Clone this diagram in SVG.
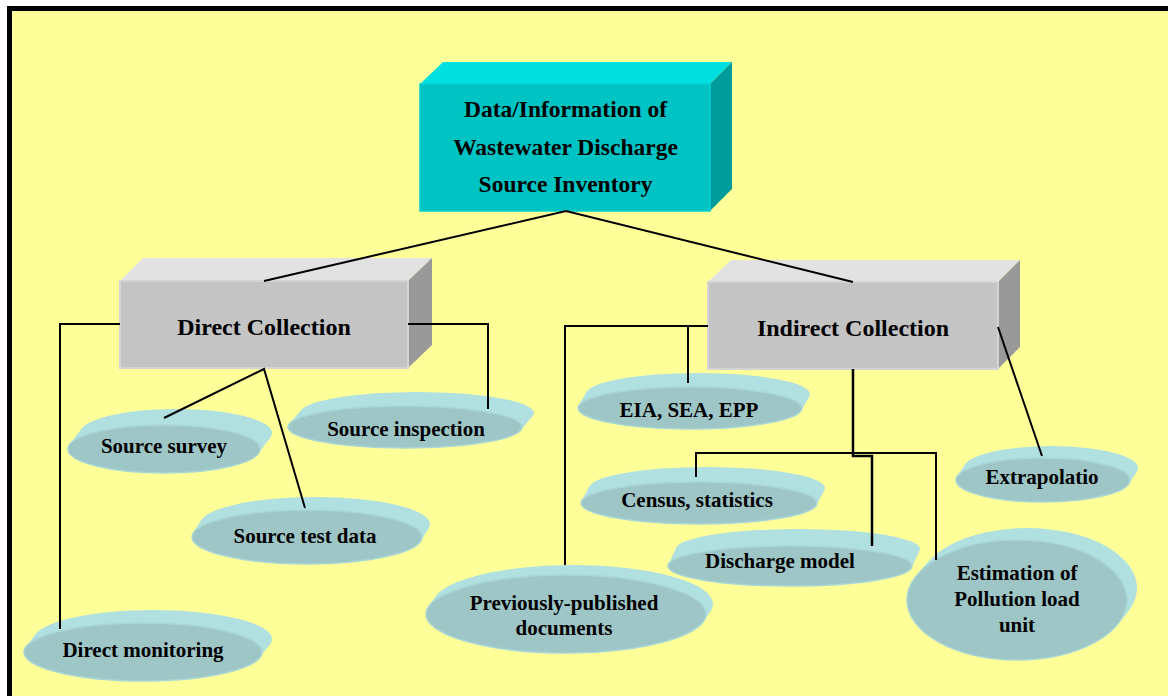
<svg xmlns="http://www.w3.org/2000/svg" width="1168" height="696" viewBox="0 0 1168 696">
<defs>
<style>
.t{font-family:"Liberation Serif","Times New Roman",serif;font-weight:bold;fill:#000;text-anchor:middle}
.big{font-size:23.5px}
.box{font-size:24px}
.dt{font-size:21px}
.cn{fill:none;stroke:#000;stroke-width:2}
.gtop{fill:#E2E2E2}
.gfront{fill:#C4C4C4;stroke:#D4D4D4;stroke-width:2}
.gside{fill:#999999}
.dback{fill:#B0E0E0}
.dfront{fill:#9EC6C6;stroke:#A9D6D6;stroke-width:1.5}
</style>
</defs>
<rect x="0" y="0" width="1168" height="696" fill="#FFFFFF"/>
<rect x="7" y="6" width="1161" height="690" fill="#000000"/>
<rect x="12" y="11" width="1156" height="685" fill="#FFFF99"/>

<g id="root">
<polygon points="420,84 443,62 732,62 710,84" fill="#00E0E0"/>
<polygon points="710,84 732,62 732,189 710,211" fill="#009C9C"/>
<rect x="420" y="84" width="290" height="127" fill="#00C4C4" stroke="#00D0D0" stroke-width="1.5"/>
<text class="t big" x="565.5" y="117">Data/Information of</text>
<text class="t big" x="565.5" y="155">Wastewater Discharge</text>
<text class="t big" x="565.5" y="192">Source Inventory</text>
</g>

<g id="direct">
<polygon class="gtop" points="120,281 143,258 432,258 408,281"/>
<polygon class="gside" points="408,281 432,258 432,345 408,368"/>
<rect class="gfront" x="120" y="281" width="288" height="87"/>
<text class="t box" x="264" y="335">Direct Collection</text>
</g>

<g id="indirect">
<polygon class="gtop" points="708,282 731,260 1020,260 998,282"/>
<polygon class="gside" points="998,282 1020,260 1020,347 998,369"/>
<rect class="gfront" x="708" y="282" width="290" height="87"/>
<text class="t box" x="853" y="336">Indirect Collection</text>
</g>

<g id="source-survey">
<ellipse class="dback" cx="176" cy="433" rx="96" ry="24"/>
<polygon class="dback" points="258.4,453.4 270.4,437.4 81.6,428.6 69.6,444.6"/>
<ellipse class="dfront" cx="164" cy="449" rx="96" ry="24"/>
<text class="t dt" x="164" y="453">Source survey</text>
</g>

<g id="source-inspection">
<ellipse class="dback" cx="417" cy="413" rx="117" ry="21"/>
<polygon class="dback" points="520.6,430.2 532.6,416.2 301.4,409.8 289.4,423.8"/>
<ellipse class="dfront" cx="405" cy="427" rx="117" ry="21"/>
<text class="t dt" x="406" y="436">Source inspection</text>
</g>

<g id="source-test-data">
<ellipse class="dback" cx="315" cy="524" rx="115" ry="27"/>
<polygon class="dback" points="420.8,540.9 428.8,527.9 201.2,520.1 193.2,533.1"/>
<ellipse class="dfront" cx="307" cy="537" rx="115" ry="27"/>
<text class="t dt" x="305" y="543">Source test data</text>
</g>

<g id="direct-monitoring">
<ellipse class="dback" cx="153" cy="639" rx="119" ry="29"/>
<polygon class="dback" points="260,657.3 270,644.3 36,633.7 26,646.7"/>
<ellipse class="dfront" cx="143" cy="652" rx="119" ry="29"/>
<text class="t dt" x="143" y="657">Direct monitoring</text>
</g>

<g id="eia">
<ellipse class="dback" cx="698" cy="394" rx="112" ry="21"/>
<polygon class="dback" points="801.4,410.2 809.4,396.2 586.6,391.8 578.6,405.8"/>
<ellipse class="dfront" cx="690" cy="408" rx="112" ry="21"/>
<text class="t dt" x="689" y="417">EIA, SEA, EPP</text>
</g>

<g id="census">
<ellipse class="dback" cx="707" cy="488" rx="118" ry="21"/>
<polygon class="dback" points="816.5,505 824.5,490 589.5,486 581.5,501"/>
<ellipse class="dfront" cx="699" cy="503" rx="118" ry="21"/>
<text class="t dt" x="697" y="507">Census, statistics</text>
</g>

<g id="discharge-model">
<ellipse class="dback" cx="798" cy="549" rx="122" ry="20"/>
<polygon class="dback" points="911.6,567.5 919.6,550.5 676.4,547.5 668.4,564.5"/>
<ellipse class="dfront" cx="790" cy="566" rx="122" ry="20"/>
<text class="t dt" x="780" y="568">Discharge model</text>
</g>

<g id="previously-published">
<ellipse class="dback" cx="573" cy="604" rx="140" ry="39"/>
<polygon class="dback" points="703.4,621.5 710.4,611.5 435.6,596.5 428.6,606.5"/>
<ellipse class="dfront" cx="566" cy="614" rx="140" ry="39"/>
<text class="t dt" x="564" y="610">Previously-published</text>
<text class="t dt" x="564" y="635">documents</text>
</g>

<g id="estimation">
<ellipse class="dback" cx="1027" cy="588" rx="110" ry="60"/>
<polygon class="dback" points="1117.1,624.8 1127.1,612.8 926.9,563.2 916.9,575.2"/>
<ellipse class="dfront" cx="1017" cy="600" rx="110" ry="60"/>
<text class="t dt" x="1017" y="580">Estimation of</text>
<text class="t dt" x="1017" y="606">Pollution load</text>
<text class="t dt" x="1017" y="632">unit</text>
</g>

<g id="extrapolatio">
<ellipse class="dback" cx="1051" cy="468" rx="87" ry="22"/>
<polygon class="dback" points="1128.8,483.7 1136.8,471.7 965.2,464.3 957.2,476.3"/>
<ellipse class="dfront" cx="1043" cy="480" rx="87" ry="22"/>
<text class="t dt" x="1042" y="484">Extrapolatio</text>
</g>

<g id="connectors">
<polyline class="cn" points="264,281 566,211 853,282"/>
<polyline class="cn" points="120,324 60,324 60,629"/>
<polyline class="cn" points="408,324 488,324 488,409"/>
<polyline class="cn" points="164,418 264,369 305,508"/>
<polyline class="cn" points="708,326 565,326 565,565"/>
<line class="cn" x1="688" y1="326" x2="688" y2="383"/>
<polyline class="cn" points="853,369 853,456 872,456 872,546" style="stroke-width:2.5"/>
<polyline class="cn" points="696,477 696,453 936,453 936,560"/>
<line class="cn" x1="998" y1="327" x2="1042" y2="456"/>
</g>
</svg>
